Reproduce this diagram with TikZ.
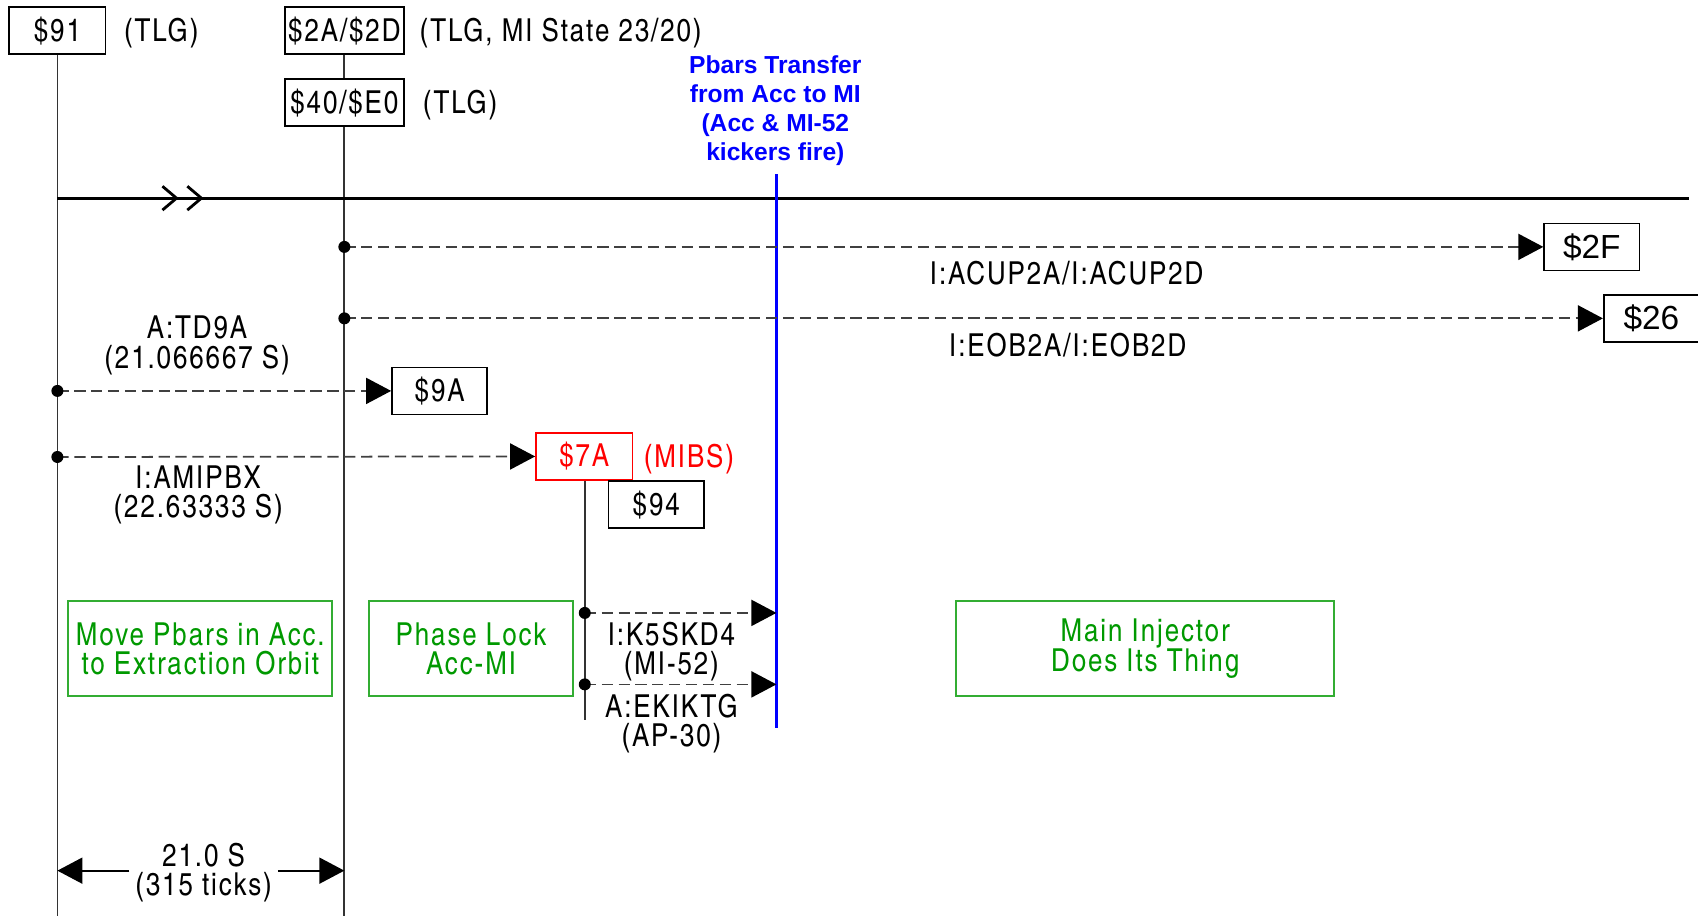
\documentclass[tikz,border=0pt]{standalone}
\usepackage{fontspec}
\setmainfont{TeX Gyre Heros}
\newfontfamily\cadfont[LetterSpace=6]{texgyreheroscn-regular.otf}
\newfontfamily\plainsans{Liberation Sans}
\newcommand\cadsize{\cadfont\fontsize{9}{8.3}\selectfont\lineskiplimit=-10pt\relax}
\usetikzlibrary{arrows.meta}
\usetikzlibrary{positioning}

\tikzset{
  cadtext/.style={font=\cadsize, align=center, inner sep=0.6pt},
  evbox/.style={cadtext, draw, line width=0.5pt, inner sep=0pt, minimum height=4.7mm},
  notebox/.style={cadtext, draw, line width=0.5pt, minimum height=9.5mm},
  trigline/.style={line width=0.5pt, black!75, dash pattern=on 3.2pt off 1.6pt,
    -{Triangle[length=2.5mm,width=2.6mm,black]}},
  timeline/.style={line width=0.5pt, black!80},
}

\begin{document}
\begin{tikzpicture}[x=0.1083mm, y=-0.1083mm]
\colorlet{kickblue}{blue}
\colorlet{mibsred}{red}
\colorlet{phasegreen}{green!60!black}
\useasboundingbox (0,0) rectangle (1568,846);

\node[evbox, minimum width=9.64mm] (e91) at (53,28.5) {\$91};
\node[evbox, minimum width=11.9mm] (e2A) at (318,28.5) {\$2A/\$2D};
\node[evbox, minimum width=11.9mm] (e40) at (318,95) {\$40/\$E0};
\node[cadtext, anchor=west] (t91) at (112,31) {(TLG)};
\node[cadtext, anchor=west] (t2A) at (385,31) {(TLG, MI State 23/20)};
\node[cadtext, anchor=west] (t40) at (388,97) {(TLG)};

\node[font=\plainsans\bfseries\fontsize{7}{8.3}\selectfont, text=kickblue,
  align=center, inner sep=0pt] (xfer) at (716,102)
  {Pbars Transfer\\from Acc to MI\\(Acc \& MI-52\\kickers fire)};

\coordinate (bot1) at (53,846);
\coordinate (bot2) at (318,846);
\coordinate (mainL) at (53,183);
\coordinate (mainR) at (1560,183);
\coordinate (blueT) at (717,161);
\coordinate (blueB) at (717,672);
\coordinate (bot7A) at (540,665);

\draw[timeline] (e91.south) -- (bot1);
\draw[timeline] (e2A.south) -- (e40.north);
\draw[timeline] (e40.south) -- (bot2);
\draw[line width=0.8pt] (mainL) -- (mainR);
\draw[line width=0.8pt] (150,172) -- (163,183) -- (150,194);
\draw[line width=0.8pt] (173,172) -- (186,183) -- (173,194);
\draw[line width=0.8pt, kickblue] (blueT) -- (blueB);

\node[evbox, minimum width=9.53mm, font=\plainsans\fontsize{9.5}{10}\selectfont] (e2F) at (1470,228) {\$2F};
\node[evbox, minimum width=9.53mm, font=\plainsans\fontsize{9.5}{10}\selectfont] (e26) at (1525,294) {\$26};
\node[evbox, minimum width=9.53mm] (e9A) at (406,361) {\$9A};
\node[evbox, minimum width=9.64mm, draw=mibsred, text=mibsred] (e7A) at (539.5,421.5) {\$7A};
\node[cadtext, anchor=west, text=mibsred] (t7A) at (592,424) {(MIBS)};
\node[evbox, minimum width=9.53mm] (e94) at (606,466) {\$94};

\draw[timeline] (e7A.south -| bot7A) -- (bot7A);

\coordinate (d2F) at (318,228);
\coordinate (d26) at (318,294);
\coordinate (d9A) at (53,361);
\coordinate (d7A) at (53,422);
\coordinate (dK5) at (540,566);
\coordinate (dEK) at (540,632);
\coordinate (aK5) at (717,566);
\coordinate (aEK) at (717,632);

\draw[trigline] (d2F) -- (e2F.west);
\draw[trigline] (d26) -- (e26.west);
\draw[trigline] (d9A) -- (e9A.west);
\draw[trigline] (d7A) -- (e7A.west);
\draw[trigline] (dK5) -- (aK5);
\draw[trigline] (dEK) -- (aEK);
\foreach \P in {d2F,d26,d9A,d7A,dK5,dEK}{
  \fill (\P) circle (0.6mm);
}

\node[cadtext] (lACUP) at (985,252) {I:ACUP2A/I:ACUP2D};
\node[cadtext] (lEOB) at (986,319) {I:EOB2A/I:EOB2D};
\node[cadtext] (lTD9A) at (182,319) {A:TD9A\\(21.066667 S)};
\node[cadtext] (lAMI) at (183,457) {I:AMIPBX\\(22.63333 S)};
\node[cadtext] (lK5) at (620,601.5) {I:K5SKD4\\(MI-52)};
\node[cadtext] (lEK) at (620,668) {A:EKIKTG\\(AP-30)};

\node[notebox, draw=phasegreen!80, text=phasegreen, minimum width=26.4mm] (gMove) at (185,599)
  {Move Pbars in Acc.\\to Extraction Orbit};
\node[notebox, draw=phasegreen!80, text=phasegreen, minimum width=20.4mm] (gLock) at (435,599)
  {Phase Lock\\Acc-MI};
\node[notebox, draw=phasegreen!80, text=phasegreen, minimum width=37.8mm] (gMain) at (1057.5,599)
  {Main Injector\\Does Its Thing};

\node[cadtext, inner sep=1.5pt] (span) at (188,806) {21.0 S\\(315 ticks)};
\coordinate (spanL) at (53,804);
\coordinate (spanR) at (318,804);
\draw[line width=0.5pt, -{Triangle[length=2.5mm,width=2.6mm]}] (span.west |- spanL) -- (spanL);
\draw[line width=0.5pt, -{Triangle[length=2.5mm,width=2.6mm]}] (span.east |- spanR) -- (spanR);
\end{tikzpicture}
\end{document}
